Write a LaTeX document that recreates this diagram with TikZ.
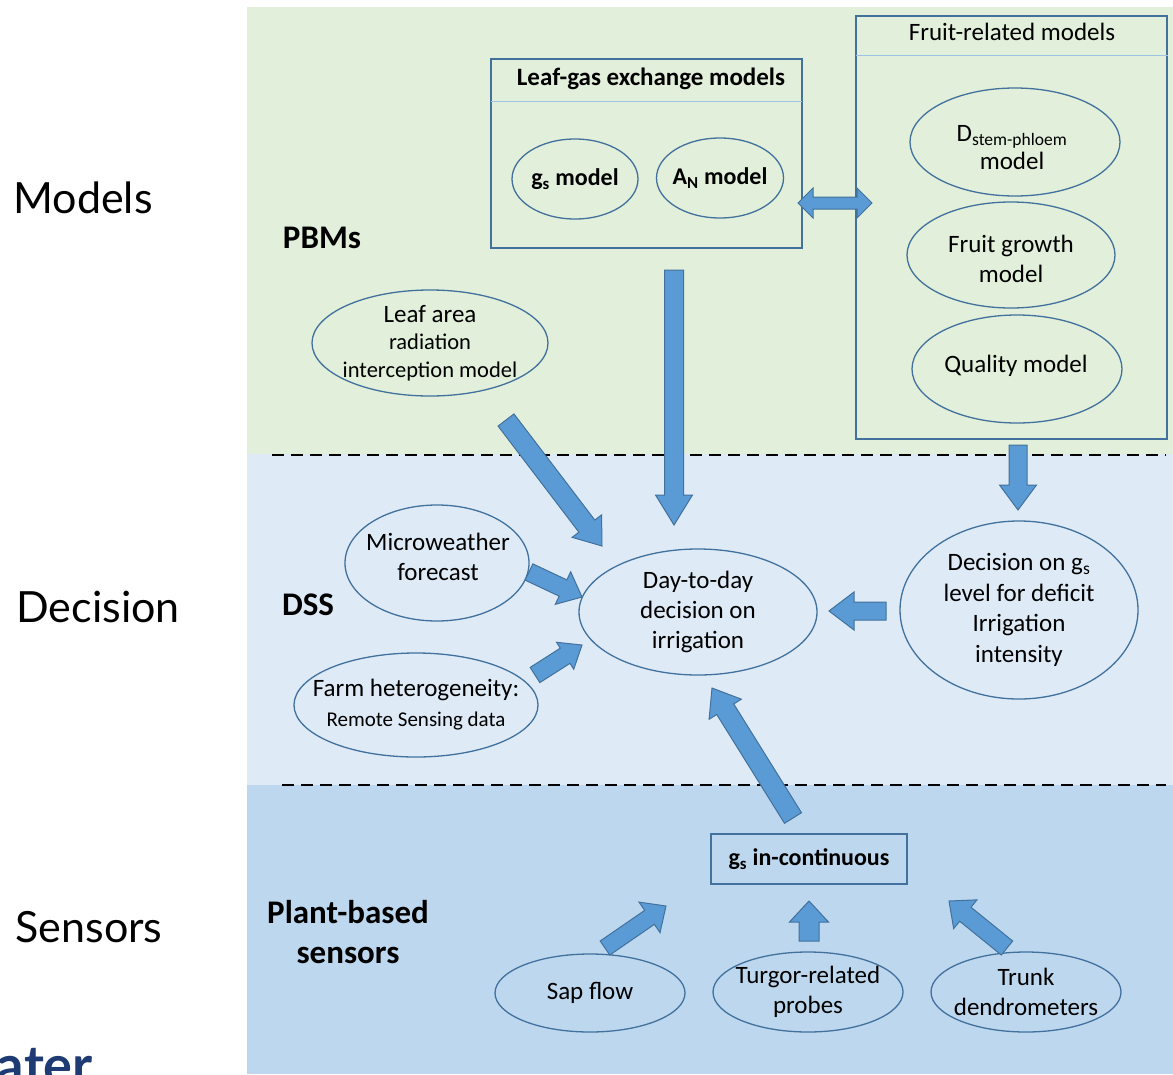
\documentclass[tikz,border=0pt]{standalone}
\usepackage{fontspec}
\setmainfont{Carlito}
\newfontfamily\labfont{Lato}
\usetikzlibrary{calc,shapes.geometric}
\definecolor{bandgreen}{HTML}{E2EFDA}
\definecolor{bandlight}{HTML}{DEEBF7}
\definecolor{bandmid}{HTML}{BDD7EE}
\definecolor{edgeblue}{HTML}{41719C}
\definecolor{arrowfill}{HTML}{5B9BD5}
\definecolor{rulecol}{HTML}{9DC3E6}
\definecolor{logonavy}{HTML}{1F3B73}
\newcommand{\blockarr}[5]{%
  \coordinate (ba-h) at ($(#2)!#5!(#1)$);
  \draw[blockarrow] ($(#1)!#3!90:(#2)$) -- ($(ba-h)!#3!-90:(#1)$) -- ($(ba-h)!#4!-90:(#1)$) -- (#2) -- ($(ba-h)!#4!90:(#1)$) -- ($(ba-h)!#3!90:(#1)$) -- ($(#1)!#3!-90:(#2)$) -- cycle;}
\begin{document}
\begin{tikzpicture}[x=1pt, y=-1pt,
  oval/.style={ellipse, draw=edgeblue, line width=1.3pt, inner sep=-30pt, align=center, font=\fontsize{25}{30}\selectfont},
  blockarrow/.style={fill=arrowfill, draw=edgeblue, line width=1pt, line join=miter},
  modelbox/.style={draw=edgeblue, line width=1.5pt, inner sep=0pt},
  sidelabel/.style={font=\labfont\fontsize{43}{50}\selectfont},
  bandlabel/.style={font=\bfseries\fontsize{33}{40}\selectfont, align=center},
  sepline/.style={dash pattern=on 12pt off 7pt, line width=1.8pt, black},
  headrule/.style={draw=rulecol, line width=1pt}]
\useasboundingbox (0,0) rectangle (1173,1074);
\clip (0,0) rectangle (1173,1074);
\fill[white] (0,0) rectangle (1173,1074);
% bands
\fill[bandgreen] (247,7) rectangle (1173,454);
\fill[bandlight] (247,454) rectangle (1173,785);
\fill[bandmid] (247,785) rectangle (1173,1074);
\draw[sepline] (272,455) -- (1166,455);
\draw[sepline] (282,785) -- (1166,785);
% side labels
\node[sidelabel] (lmodels) at (83,198) {Models};
\node[sidelabel] (ldecision) at (98,607) {Decision};
\node[sidelabel] (lsensors) at (89,927) {Sensors};
\node[font=\labfont\bfseries\fontsize{54}{60}\selectfont, text=logonavy, anchor=base east, inner sep=0pt] (logo) at (93,1084) {ater};
% band labels
\node[bandlabel] (pbms) at (322,238) {PBMs};
\node[bandlabel] (dss) at (308,605) {DSS};
\node[bandlabel] (pbs) at (348,932) {Plant-based\\sensors};
% leaf-gas box
\node[modelbox, minimum width=311pt, minimum height=189pt, anchor=north west] (leafbox) at (490,58) {};
\draw[headrule] ($(leafbox.north west)+(1,43)$) -- ($(leafbox.north east)+(-1,43)$);
\node[font=\bfseries\fontsize{25}{28}\selectfont] (leaftitle) at (651,79) {Leaf-gas exchange models};
\node[oval, minimum width=126pt, minimum height=80pt, font=\bfseries\fontsize{24}{30}\selectfont] (gsm) at (575,179) {g\textsubscript{s} model};
\node[oval, minimum width=127pt, minimum height=80pt, font=\bfseries\fontsize{24}{30}\selectfont] (anm) at (720,178) {A\textsubscript{N} model};
% fruit box
\node[modelbox, minimum width=311pt, minimum height=423pt, anchor=north west] (fruitbox) at (855,15) {};
\draw[headrule] ($(fruitbox.north west)+(1,40)$) -- ($(fruitbox.north east)+(0,40)$);
\node[font=\fontsize{25}{28}\selectfont] (fruittitle) at (1012,32) {Fruit-related models};
\node[oval, minimum width=210pt, minimum height=108pt] (dstem) at (1015,142) {};
\node[font=\fontsize{25}{28}\selectfont, align=center] (dstemtxt) at (1012,148) {D\textsubscript{stem-phloem}\\model};
\node[oval, minimum width=208pt, minimum height=106pt] (fgrowth) at (1011,255) {};
\node[font=\fontsize{25}{30}\selectfont, align=center] (fgrowthtxt) at (1011,259) {Fruit growth\\model};
\node[oval, minimum width=210pt, minimum height=108pt] (quality) at (1017,369) {};
\node[font=\fontsize{25}{30}\selectfont] (qualitytxt) at (1016,366) {Quality model};
% PBM leaf area
\node[oval, minimum width=236pt, minimum height=106pt, font=\fontsize{22.5}{27.5}\selectfont] (leafarea) at (430,343) {{\fontsize{25}{27.5}\selectfont Leaf area}\\radiation\\interception model};
% DSS
\node[oval, minimum width=184pt, minimum height=116pt] (micro) at (437,563) {};
\node[font=\fontsize{25}{30}\selectfont, align=center] (microtxt) at (438,557) {Microweather\\forecast};
\node[oval, minimum width=244pt, minimum height=104pt] (farm) at (416,705) {Farm heterogeneity:\\{\fontsize{21}{28}\selectfont Remote Sensing data}};
\node[oval, minimum width=238pt, minimum height=126pt] (day) at (698,612) {Day-to-day\\decision on\\irrigation};
\node[oval, minimum width=238pt, minimum height=178pt, font=\fontsize{25}{30.5}\selectfont] (decgs) at (1019,610) {Decision on g\textsubscript{s}\\level for deficit\\Irrigation\\intensity};
% sensors
\node[modelbox, minimum width=196pt, minimum height=50pt, font=\bfseries\fontsize{24}{28}\selectfont] (gscont) at (809,859) {g\textsubscript{s} in-continuous};
\node[oval, minimum width=190pt, minimum height=78pt] (sap) at (590,993) {Sap flow};
\node[oval, minimum width=190pt, minimum height=80pt] (turgor) at (808,992) {Turgor-related\\probes};
\node[oval, minimum width=190pt, minimum height=80pt] (trunk) at (1026,992) {Trunk\\dendrometers};
% arrow end points
\coordinate (a1s) at (674,270); \coordinate (a1e) at (674,525);
\coordinate (a2s) at (506,420); \coordinate (a2e) at (602,546);
\coordinate (a3s) at (1018,445); \coordinate (a3e) at (1018,510);
\coordinate (a4s) at (886,611); \coordinate (a4e) at (829,611);
\coordinate (a5s) at (529,572); \coordinate (a5e) at (582,597);
\coordinate (a6s) at (535,675); \coordinate (a6e) at (582,645);
\coordinate (a7s) at (793,818); \coordinate (a7e) at (712,688);
\coordinate (a8s) at (605,948); \coordinate (a8e) at (666,906);
\coordinate (a9s) at (809,941); \coordinate (a9e) at (809,901);
\coordinate (a10s) at (1007,948); \coordinate (a10e) at (949,901);
\blockarr{a1s}{a1e}{9.5pt}{18.5pt}{30pt}
\blockarr{a2s}{a2e}{10pt}{18.5pt}{25pt}
\blockarr{a3s}{a3e}{9pt}{18.5pt}{25pt}
\blockarr{a4s}{a4e}{9pt}{19pt}{25pt}
\blockarr{a5s}{a5e}{9pt}{18pt}{21pt}
\blockarr{a6s}{a6e}{9pt}{16pt}{20pt}
\blockarr{a7s}{a7e}{10pt}{19pt}{25pt}
\blockarr{a8s}{a8e}{8.5pt}{18.5pt}{20pt}
\blockarr{a9s}{a9e}{10pt}{19.5pt}{21pt}
\blockarr{a10s}{a10e}{9pt}{18.5pt}{21pt}
% double arrow between boxes
\coordinate (dal) at (798,203);
\draw[blockarrow] (dal) -- ++(15,-15) -- ++(0,9) -- ++(44,0) -- ++(0,-9) -- ++(15,15) -- ++(-15,15) -- ++(0,-9) -- ++(-44,0) -- ++(0,9) -- cycle;
\end{tikzpicture}
\end{document}
